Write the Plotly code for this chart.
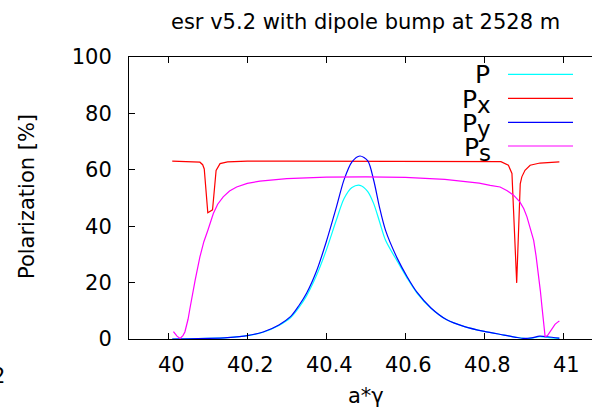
import plotly.graph_objects as go

# ---------------- data ----------------
x_py = [40.01, 40.05, 40.10, 40.15, 40.20, 40.24, 40.28, 40.31, 40.33, 40.35, 40.375, 40.40,
        40.425, 40.445, 40.465, 40.485, 40.505, 40.52, 40.535, 40.55, 40.58, 40.605, 40.63,
        40.665, 40.705, 40.75, 40.80, 40.85, 40.88, 40.90, 40.92, 40.94, 40.96, 40.99]
y_py = [0.0, 0.05, 0.2, 0.5, 1.2, 2.5, 5.0, 8.0, 11.7, 16.2, 24.0, 34.5,
        46.5, 56.5, 62.8, 64.9, 63.2, 56.3, 46.5, 38.5, 28.5, 22.0, 16.5,
        11.0, 6.8, 4.4, 2.7, 1.4, 0.6, 0.2, 0.4, 1.0, 0.8, 0.3]
y_p = [0.0, 0.05, 0.2, 0.5, 1.2, 2.4, 4.8, 7.6, 11.0, 15.3, 22.5, 31.5,
       42.0, 49.8, 53.7, 54.5, 52.3, 48.0, 41.5, 35.0, 27.5, 21.5, 16.2,
       10.9, 6.8, 4.4, 2.7, 1.4, 0.6, 0.2, 0.3, 0.8, 0.6, 0.2]

x_px = [40.01, 40.06, 40.08, 40.087, 40.091, 40.10, 40.112, 40.121, 40.131, 40.15, 40.20,
        40.30, 40.50, 40.70, 40.80, 40.842, 40.861, 40.870, 40.882, 40.891, 40.895, 40.903,
        40.916, 40.941, 40.99]
y_px = [63.1, 63.0, 62.7, 61.8, 60.3, 44.8, 45.8, 59.8, 62.2, 62.8, 63.1,
        63.1, 63.1, 63.1, 63.1, 62.9, 61.6, 58.7, 19.9, 55.0, 57.5, 59.8,
        61.6, 62.4, 62.8]

x_ps = [40.013, 40.022, 40.03, 40.037, 40.042, 40.05, 40.055, 40.063, 40.068, 40.08, 40.09,
        40.10, 40.114, 40.125, 40.139, 40.155, 40.173, 40.20, 40.232, 40.30, 40.40, 40.50,
        40.60, 40.70, 40.75, 40.787, 40.815, 40.84, 40.858, 40.874, 40.89, 40.90, 40.908,
        40.917, 40.925, 40.931, 40.937, 40.942, 40.946, 40.95, 40.954, 40.96, 40.966,
        40.972, 40.979, 40.985, 40.99]
y_ps = [2.6, 1.0, 0.2, 1.2, 2.5, 7.0, 11.0, 17.3, 20.9, 29.1, 34.5,
        38.5, 44.5, 47.8, 50.4, 52.5, 53.9, 55.2, 56.0, 56.9, 57.4, 57.5,
        57.3, 56.6, 56.0, 55.3, 54.5, 53.9, 52.6, 51.0, 48.6, 46.2, 43.3,
        39.3, 35.0, 29.5, 23.3, 17.0, 11.4, 5.8, 0.8, 1.2, 2.6,
        3.8, 5.2, 5.9, 6.4]

x_ticks = [40, 40.2, 40.4, 40.6, 40.8, 41]
x_ticktext = ["40", "40.2", "40.4", "40.6", "40.8", "41"]
y_ticks = [0, 20, 40, 60, 80, 100]

legend_main = ["P", "P", "P", "P"]
legend_sub = ["", "x", "y", "s"]
colors = ["#00ffff", "#ff0000", "#0000ff", "#ff00ff"]

title_text = "esr v5.2 with dipole bump at 2528 m"
xlabel = "a*γ"
ylabel = "Polarization [%]"

FONT = "DejaVu Sans"

# ---------------- geometry helpers ----------------
W, H = 592, 412
L, R, T, B = 129, 0, 57, 73
PW, PH = W - L - R, H - T - B


def px(xp):
    return (xp - L) / PW


def py(yp):
    return (H - B - yp) / PH


fig = go.Figure()
fig.add_trace(go.Scatter(x=x_py, y=y_p, mode="lines", line=dict(color=colors[0], width=1.2, shape="spline", smoothing=0.8), showlegend=False))
fig.add_trace(go.Scatter(x=x_px, y=y_px, mode="lines", line=dict(color=colors[1], width=1.2), showlegend=False))
fig.add_trace(go.Scatter(x=x_py, y=y_py, mode="lines", line=dict(color=colors[2], width=1.2, shape="spline", smoothing=0.8), showlegend=False))
fig.add_trace(go.Scatter(x=x_ps, y=y_ps, mode="lines", line=dict(color=colors[3], width=1.2), showlegend=False))

ann = []
ann.append(dict(text=title_text, x=px(365), y=py(21.5), xref="paper", yref="paper",
                xanchor="center", yanchor="middle", showarrow=False,
                font=dict(family=FONT, size=21, color="black")))
ann.append(dict(text=xlabel, x=px(366), y=py(396), xref="paper", yref="paper",
                xanchor="center", yanchor="middle", showarrow=False,
                font=dict(family=FONT, size=21, color="black")))
ann.append(dict(text=ylabel, x=px(27), y=py(197), xref="paper", yref="paper",
                xanchor="center", yanchor="middle", showarrow=False, textangle=-90,
                font=dict(family=FONT, size=21, color="black")))
ann.append(dict(text="2", x=px(-1.5), y=py(376), xref="paper", yref="paper",
                xanchor="center", yanchor="middle", showarrow=False,
                font=dict(family=FONT, size=21, color="black")))

row_y = [74.3, 98.3, 122.3, 146.0]
shapes = []
for i in range(4):
    yl = row_y[i]
    if legend_sub[i] == "":
        ann.append(dict(text=legend_main[i], x=px(492), y=py(yl), xref="paper", yref="paper",
                        xanchor="right", yanchor="middle", showarrow=False,
                        font=dict(family=FONT, size=25, color="black")))
    else:
        txt = legend_main[i] + "<sub><span style='font-size:23px'>" + legend_sub[i] + "</span></sub>"
        ann.append(dict(text=txt, x=px(493), y=py(yl + 3), xref="paper", yref="paper",
                        xanchor="right", yanchor="middle", showarrow=False,
                        font=dict(family=FONT, size=25, color="black")))
    shapes.append(dict(type="line", xref="paper", yref="paper", x0=px(508), x1=px(573),
                       y0=py(yl), y1=py(yl), line=dict(color=colors[i], width=1.2)))

fig.update_layout(
    width=W, height=H,
    margin=dict(l=L, r=R, t=T, b=B, pad=0),
    paper_bgcolor="white", plot_bgcolor="white",
    annotations=ann, shapes=shapes,
    font=dict(family=FONT, size=21, color="black"),
)
x0 = 40 - (168.3 - L) / 395.0
fig.update_xaxes(range=[x0, x0 + PW / 395.0], tickvals=x_ticks, ticktext=x_ticktext,
                 ticks="inside", ticklen=6, tickcolor="black", showline=True, linecolor="black",
                 linewidth=1, mirror="ticks", showgrid=False, zeroline=False,
                 tickfont=dict(family=FONT, size=21, color="black"), ticklabelstandoff=7,
                 ticklabelshift=3)
fig.update_yaxes(range=[0, 100], tickvals=y_ticks, ticks="inside", ticklen=6, tickcolor="black",
                 showline=True, linecolor="black", linewidth=1, mirror=False, showgrid=False,
                 zeroline=False, tickfont=dict(family=FONT, size=21, color="black"),
                 ticklabelstandoff=12)

fig.write_html("out.html")
